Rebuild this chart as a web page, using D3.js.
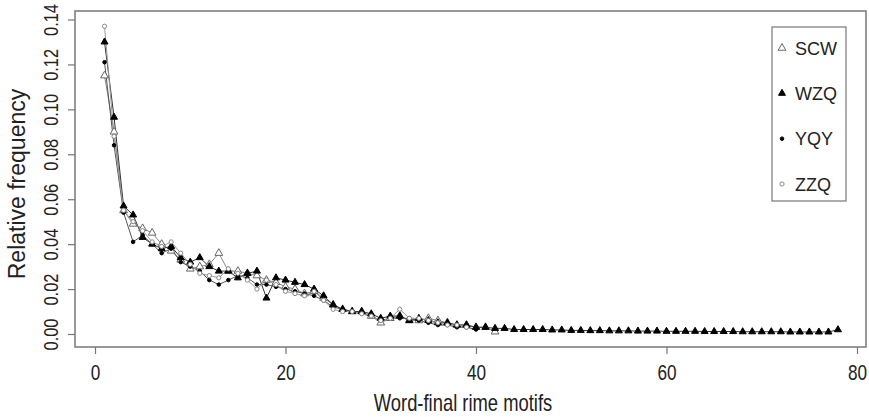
<!doctype html>
<html lang="en">
<head>
<meta charset="utf-8">
<title>Relative frequency of word-final rime motifs</title>
<script src="https://d3js.org/d3.v7.min.js"></script>
<style>
  body { margin: 0; background: #fff; }
  svg text { font-family: "Liberation Sans", Arial, sans-serif; fill: #222; }
</style>
</head>
<body>
<div id="chart"></div>
<script>

// relative frequency per rank (x = 1, 2, 3, ...)
var scw = [0.115, 0.090, 0.055, 0.049, 0.047, 0.045, 0.040, 0.037, 0.033, 0.029,
           0.030, 0.031, 0.036, 0.028, 0.028, 0.027, 0.026, 0.024, 0.023, 0.021,
           0.020, 0.018, 0.019, 0.016, 0.013, 0.011, 0.010, 0.010, 0.008, 0.005,
           0.007, 0.008, 0.006, 0.006, 0.007, 0.006, 0.005, 0.004, 0.004, 0.003,
           0.003, 0.001];
var wzq = [0.130, 0.0965, 0.057, 0.053, 0.043, 0.040, 0.038, 0.039, 0.034, 0.032,
           0.034, 0.030, 0.028, 0.028, 0.025, 0.027, 0.028, 0.016, 0.025, 0.024,
           0.023, 0.022, 0.020, 0.017, 0.013, 0.011, 0.010, 0.010, 0.009, 0.007,
           0.008, 0.008, 0.006, 0.007, 0.006, 0.005, 0.005, 0.004, 0.004, 0.003,
           0.003, 0.0025, 0.0025, 0.002, 0.002, 0.002, 0.002, 0.0018, 0.0018, 0.0016,
           0.0016, 0.0015, 0.0015, 0.0014, 0.0014, 0.0014, 0.0013, 0.0013, 0.0013, 0.0012,
           0.0012, 0.0012, 0.0012, 0.0011, 0.0011, 0.0011, 0.0011, 0.0010, 0.0010, 0.0010,
           0.0010, 0.0010, 0.0009, 0.0009, 0.0009, 0.0009, 0.0009, 0.0019];
var yqy = [0.121, 0.084, 0.054, 0.041, 0.044, 0.040, 0.036, 0.038, 0.032, 0.030,
           0.028, 0.024, 0.022, 0.024, 0.026, 0.025, 0.022, 0.022, 0.021, 0.020,
           0.019, 0.018, 0.017, 0.015, 0.012, 0.011, 0.010, 0.009, 0.008, 0.006,
           0.007, 0.007, 0.007, 0.006, 0.005, 0.004, 0.004, 0.003, 0.003, 0.002];
var zzq = [0.137, 0.088, 0.055, 0.050, 0.046, 0.041, 0.039, 0.041, 0.036, 0.031,
           0.027, 0.026, 0.025, 0.029, 0.027, 0.024, 0.020, 0.024, 0.022, 0.019,
           0.018, 0.017, 0.019, 0.015, 0.011, 0.010, 0.010, 0.009, 0.008, 0.006,
           0.007, 0.011, 0.007, 0.007, 0.006, 0.005, 0.004, 0.004, 0.003];

var seriesNames = ["SCW", "WZQ", "YQY", "ZZQ"];
var xTicks = [0, 20, 40, 60, 80];
var yTicks = [0.00, 0.02, 0.04, 0.06, 0.08, 0.10, 0.12, 0.14];

var width = 869;
var height = 417;

// the source image uses a condensed face, so squeeze text along its run
var narrow = 0.78;

var svg = d3.select("#chart").append("svg")
    .attr("width", width)
    .attr("height", height);

// plot box, R style
var box = {left: 75, right: 866, top: 11, bottom: 347};

var x = d3.scaleLinear().domain([0, 80]).range([95, 857]);
var y = d3.scaleLinear().domain([0, 0.14]).range([334, 19.5]);

svg.append("rect")
    .attr("x", box.left)
    .attr("y", box.top)
    .attr("width", box.right - box.left)
    .attr("height", box.bottom - box.top)
    .attr("fill", "none")
    .attr("stroke", "#777")
    .attr("stroke-width", 1.5);

// x axis
var xAxis = svg.append("g")
    .attr("transform", "translate(0," + box.bottom + ")")
    .call(d3.axisBottom(x).tickValues(xTicks).tickSize(7).tickFormat(d3.format("d")));
xAxis.select(".domain").remove();
xAxis.selectAll("line").attr("stroke", "#777").attr("stroke-width", 1.2);
xAxis.selectAll("text")
    .style("font-size", "22px")
    .attr("fill", "#222")
    .attr("y", 33)
    .attr("dy", null)
    .attr("transform", "scale(" + narrow + ",1)");

// y axis (labels rotated like R's default las=0)
var yAxis = svg.append("g")
    .attr("transform", "translate(" + box.left + ",0)")
    .call(d3.axisLeft(y).tickValues(yTicks).tickSize(7).tickFormat(d3.format(".2f")));
yAxis.select(".domain").remove();
yAxis.selectAll("line").attr("stroke", "#777").attr("stroke-width", 1.2);
yAxis.selectAll("text")
    .style("font-size", "21px")
    .attr("fill", "#222")
    .attr("x", null)
    .attr("dy", null)
    .attr("text-anchor", "middle")
    .attr("transform", "translate(-17,0) rotate(-90) scale(" + narrow + ",1)");

// axis titles
svg.append("text")
    .attr("transform", "translate(463,411) scale(0.8,1)")
    .attr("text-anchor", "middle")
    .style("font-size", "23px")
    .text("Word-final rime motifs");

svg.append("text")
    .attr("transform", "translate(25,184) rotate(-90)")
    .attr("text-anchor", "middle")
    .style("font-size", "23px")
    .text("Relative frequency");

// marker shapes per series
var triangle = d3.symbol().type(d3.symbolTriangle).size(26);
var smallTri = d3.symbol().type(d3.symbolTriangle).size(21);
var dot = d3.symbol().type(d3.symbolCircle).size(10);
var ring = d3.symbol().type(d3.symbolCircle).size(14);

var series = [
    {name: "SCW", values: scw, line: "#888", shape: triangle, fill: "#fff", stroke: "#666"},
    {name: "WZQ", values: wzq, line: "#333", shape: smallTri, fill: "#000", stroke: "#000"},
    {name: "YQY", values: yqy, line: "#555", shape: dot, fill: "#000", stroke: "#000"},
    {name: "ZZQ", values: zzq, line: "#999", shape: ring, fill: "#fff", stroke: "#888"}
];

var line = d3.line()
    .x(function(d, i) { return x(i + 1); })
    .y(function(d) { return y(d); });

// lines first, then markers on top
series.forEach(function(s) {
    svg.append("path")
        .datum(s.values)
        .attr("d", line)
        .attr("fill", "none")
        .attr("stroke", s.line)
        .attr("stroke-width", 1);
});

series.forEach(function(s) {
    svg.append("g").selectAll("path")
        .data(s.values)
        .enter().append("path")
        .attr("d", s.shape)
        .attr("transform", function(d, i) { return "translate(" + x(i + 1) + "," + y(d) + ")"; })
        .attr("fill", s.fill)
        .attr("stroke", s.stroke)
        .attr("stroke-width", 1);
});

// legend
var legend = svg.append("g");
legend.append("rect")
    .attr("x", 772)
    .attr("y", 27)
    .attr("width", 74)
    .attr("height", 174)
    .attr("fill", "#fff")
    .attr("stroke", "#777")
    .attr("stroke-width", 1.2);

var legendY = d3.scalePoint().domain(seriesNames).range([48, 184]);

series.forEach(function(s) {
    legend.append("path")
        .attr("d", s.shape)
        .attr("transform", "translate(782," + legendY(s.name) + ")")
        .attr("fill", s.fill)
        .attr("stroke", s.stroke);
    legend.append("text")
        .attr("x", 795)
        .attr("y", legendY(s.name) + 6.5)
        .style("font-size", "18px")
        .text(s.name);
});

</script>
</body>
</html>
